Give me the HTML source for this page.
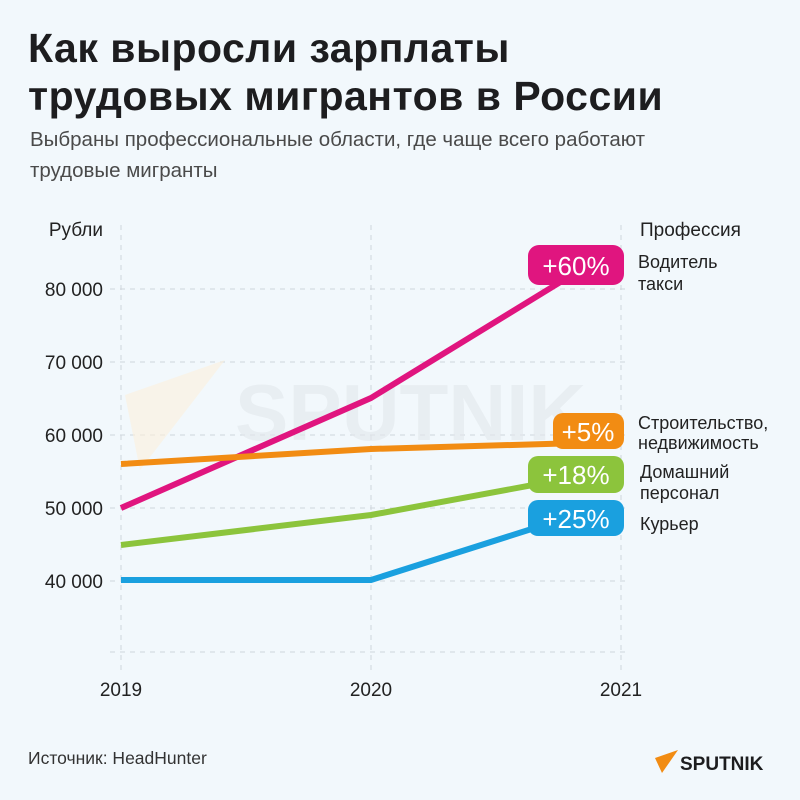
<!DOCTYPE html>
<html><head><meta charset="utf-8"><style>
body{margin:0;background:#f2f8fc;}
.w{position:relative;width:800px;height:800px;background:#f2f8fc;font-family:"Liberation Sans","DejaVu Sans",sans-serif;overflow:hidden}
.t{position:absolute;left:28px;top:24px;font-size:41px;font-weight:bold;line-height:48px;color:#1d1d1f;letter-spacing:0.5px}
.s{position:absolute;left:30px;top:124px;font-size:20.5px;line-height:31px;color:#4a4a4a}
</style></head><body><div class="w">
<div class="t">Как выросли зарплаты<br>трудовых мигрантов в России</div>
<div class="s">Выбраны профессиональные области, где чаще всего работают<br>трудовые мигранты</div>
<svg width="800" height="800" style="position:absolute;left:0;top:0" font-family="Liberation Sans, sans-serif">
<g stroke="#cfd6dc" stroke-width="1" stroke-dasharray="5,5">
<line x1="110" y1="289" x2="630" y2="289"/><line x1="110" y1="362" x2="630" y2="362"/>
<line x1="110" y1="435" x2="630" y2="435"/><line x1="110" y1="508" x2="630" y2="508"/>
<line x1="110" y1="581" x2="630" y2="581"/><line x1="110" y1="652" x2="630" y2="652"/>
<line x1="121" y1="225" x2="121" y2="670"/><line x1="371" y1="225" x2="371" y2="670"/><line x1="621" y1="225" x2="621" y2="670"/>
</g>
<polygon points="125,395 225,360 140,470" fill="#fbf0dc" opacity="0.6"/>
<text x="235" y="440" font-size="80" font-weight="bold" fill="#e3e8ec" opacity="0.6">SPUTNIK</text>
<g font-size="19" fill="#222">
<text x="103" y="236" text-anchor="end">Рубли</text>
<text x="103" y="296" text-anchor="end">80 000</text>
<text x="103" y="369" text-anchor="end">70 000</text>
<text x="103" y="442" text-anchor="end">60 000</text>
<text x="103" y="515" text-anchor="end">50 000</text>
<text x="103" y="588" text-anchor="end">40 000</text>
<text x="121" y="696" text-anchor="middle">2019</text>
<text x="371" y="696" text-anchor="middle">2020</text>
<text x="621" y="696" text-anchor="middle">2021</text>
<text x="640" y="236">Профессия</text>
<text x="638" y="268" font-size="18">Водитель</text><text x="638" y="290" font-size="18">такси</text>
<text x="638" y="429" font-size="18">Строительство,</text><text x="638" y="449" font-size="18">недвижимость</text>
<text x="640" y="478" font-size="18">Домашний</text><text x="640" y="499" font-size="18">персонал</text>
<text x="640" y="530" font-size="18">Курьер</text>
</g>
<g fill="none" stroke-width="6" stroke-linejoin="round">
<polyline points="121,508 371,398 580,270" stroke="#e0157f"/>
<polyline points="121,464 371,449 580,443" stroke="#f28c13"/>
<polyline points="121,545 371,515 560,480" stroke="#8cc43c"/>
<polyline points="121,580 371,580 560,520" stroke="#1aa0df"/>
</g>
<g font-size="26" fill="#fff" text-anchor="middle">
<rect x="528" y="245" width="96" height="40" rx="11" fill="#e0157f"/><text x="576" y="275">+60%</text>
<rect x="553" y="413" width="71" height="36" rx="10" fill="#f28c13"/><text x="588" y="441">+5%</text>
<rect x="528" y="456" width="96" height="37" rx="10" fill="#8cc43c"/><text x="576" y="484">+18%</text>
<rect x="528" y="500" width="96" height="36" rx="10" fill="#1aa0df"/><text x="576" y="528">+25%</text>
</g>
<text x="28" y="764" font-size="17.5" fill="#333">Источник: HeadHunter</text>
<polygon points="655,758 678,750 662,773" fill="#f28c13"/>
<text x="680" y="770" font-size="19" font-weight="bold" fill="#1d1d1f">SPUTNIK</text>
</svg>
</div></body></html>
